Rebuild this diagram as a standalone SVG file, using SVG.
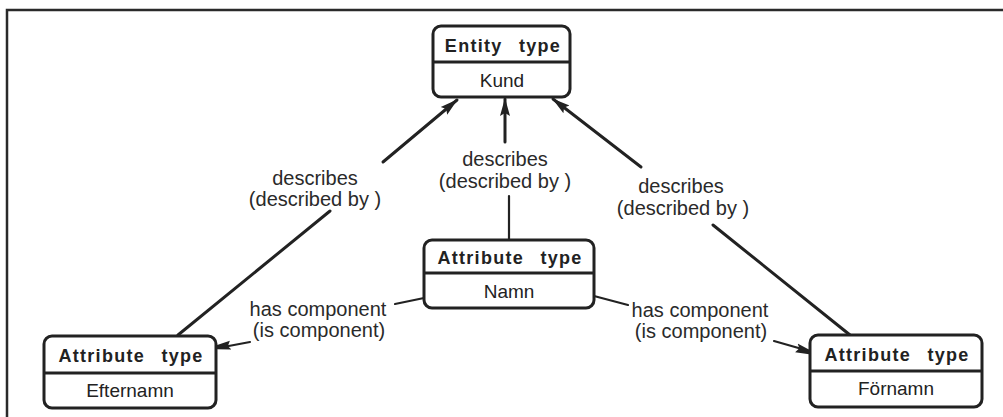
<svg xmlns="http://www.w3.org/2000/svg" width="1003" height="417" viewBox="0 0 1003 417">
  <style>
    .box { fill: #ffffff; stroke: #222222; stroke-width: 3; }
    .div { stroke: #222222; stroke-width: 3; }
    .head { font-family: "Liberation Sans", Arial, sans-serif; font-weight: bold; font-size: 18px; letter-spacing: 1.3px; word-spacing: 10px; fill: #222222; text-anchor: middle; }
    .name { font-family: "Liberation Sans", Arial, sans-serif; font-size: 19px; fill: #222222; text-anchor: middle; }
    .lbl { font-family: "Liberation Sans", Arial, sans-serif; font-size: 20px; fill: #2a2a2a; text-anchor: middle; }
    .conn { fill: none; stroke: #222222; stroke-width: 3; stroke-linecap: round; }
    .thin { fill: none; stroke: #222222; stroke-width: 2.2; stroke-linecap: round; }
  </style>
  <defs>
    <marker id="arrow" markerUnits="userSpaceOnUse" viewBox="0 -6 18 12" refX="17" refY="0" markerWidth="18" markerHeight="12" orient="auto">
      <path d="M0,-5 L18,0 L0,5 L3,0 Z" fill="#222222"/>
    </marker>
    <marker id="wedge" markerUnits="userSpaceOnUse" viewBox="0 -6 14 12" refX="13" refY="0" markerWidth="14" markerHeight="12" orient="auto">
      <path d="M0,-4 L14,-1 L14,3 L0,5 L3,0 Z" fill="#222222"/>
    </marker>
  </defs>

  <rect width="1003" height="417" fill="#ffffff"/>
  <!-- page frame -->
  <path d="M7,417 V10 H1003" fill="none" stroke="#2a2a2a" stroke-width="2.5"/>

  <g id="connectors">
    <!-- describes: Efternamn -> Kund -->
    <line class="conn" x1="178" y1="335" x2="330" y2="211"/>
    <line class="conn" x1="383" y1="162" x2="457" y2="100" marker-end="url(#arrow)"/>
    <!-- describes: Namn -> Kund -->
    <line class="thin" x1="509" y1="240" x2="509" y2="196"/>
    <line class="conn" x1="505" y1="142" x2="505" y2="99" marker-end="url(#arrow)"/>
    <!-- describes: Förnamn -> Kund -->
    <line class="conn" x1="850" y1="335" x2="713" y2="225"/>
    <line class="conn" x1="641" y1="167" x2="553" y2="99" marker-end="url(#arrow)"/>
    <!-- has component: Namn -> Efternamn -->
    <line class="thin" x1="424" y1="298" x2="395" y2="304"/>
    <line class="thin" x1="250" y1="342" x2="218" y2="348" marker-end="url(#wedge)"/>
    <!-- has component: Namn -> Förnamn -->
    <line class="thin" x1="594" y1="296" x2="628" y2="305"/>
    <line class="thin" x1="774" y1="341" x2="809" y2="351" marker-end="url(#wedge)"/>

    <text class="lbl" x="315" y="185">describes</text>
    <text class="lbl" x="315" y="206">(described by )</text>
    <text class="lbl" x="505" y="166">describes</text>
    <text class="lbl" x="505" y="188">(described by )</text>
    <text class="lbl" x="681" y="193">describes</text>
    <text class="lbl" x="683" y="215">(described by )</text>
    <text class="lbl" x="318" y="316">has component</text>
    <text class="lbl" x="319" y="337">(is component)</text>
    <text class="lbl" x="700" y="317">has component</text>
    <text class="lbl" x="701" y="338">(is component)</text>
  </g>

  <g id="kund">
    <rect class="box" x="433" y="26" width="137" height="71" rx="8"/>
    <line class="div" x1="433" y1="62" x2="570" y2="62"/>
    <text class="head" x="503" y="52">Entity type</text>
    <text class="name" x="502" y="87">Kund</text>
  </g>

  <g id="namn">
    <rect class="box" x="424" y="240" width="170" height="68" rx="8"/>
    <line class="div" x1="424" y1="273" x2="594" y2="273"/>
    <text class="head" x="510" y="264">Attribute type</text>
    <text class="name" x="509" y="298">Namn</text>
  </g>

  <g id="efternamn">
    <rect class="box" x="44" y="336" width="172" height="72" rx="8"/>
    <line class="div" x1="44" y1="373" x2="216" y2="373"/>
    <text class="head" x="131" y="362">Attribute type</text>
    <text class="name" x="130" y="397">Efternamn</text>
  </g>

  <g id="fornamn">
    <rect class="box" x="810" y="335" width="172" height="72" rx="8"/>
    <line class="div" x1="810" y1="371" x2="982" y2="371"/>
    <text class="head" x="897" y="361">Attribute type</text>
    <text class="name" x="896" y="395">Förnamn</text>
  </g>
</svg>
